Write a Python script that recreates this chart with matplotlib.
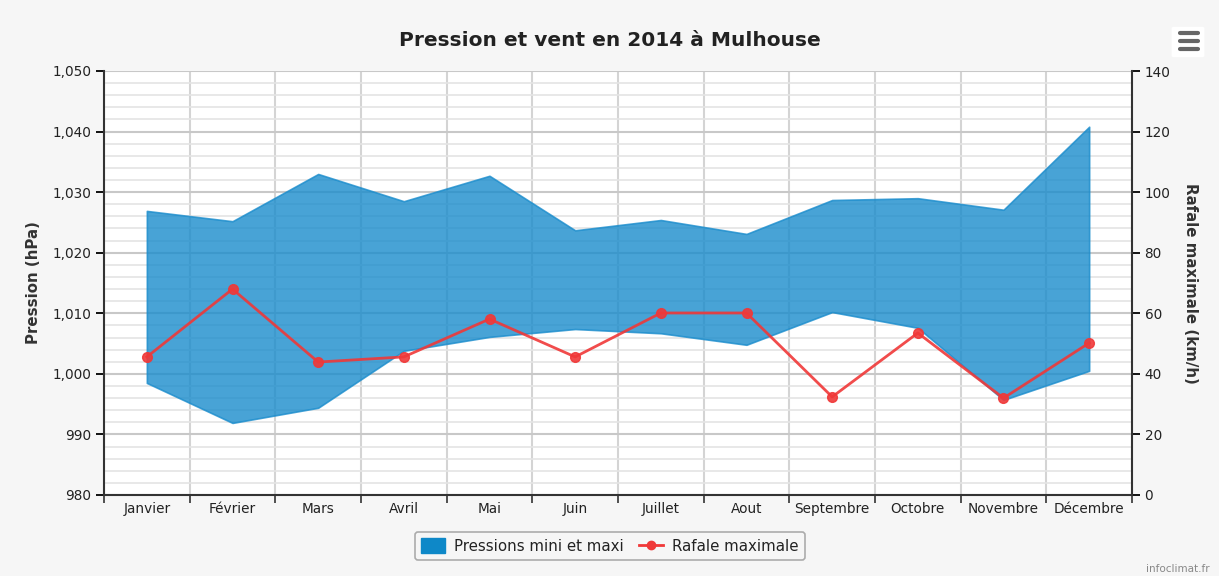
import matplotlib.pyplot as plt
from matplotlib.patches import FancyBboxPatch
from matplotlib.lines import Line2D
import numpy as np

# donnees
mois = ["Janvier", "Février", "Mars", "Avril", "Mai", "Juin", "Juillet",
        "Aout", "Septembre", "Octobre", "Novembre", "Décembre"]
pression_mini = [998.5, 991.9, 994.4, 1003.8, 1006.1, 1007.4, 1006.7,
                 1004.8, 1010.2, 1007.6, 995.7, 1000.5]
pression_maxi = [1026.9, 1025.2, 1033.0, 1028.5, 1032.7, 1023.7, 1025.4,
                 1023.1, 1028.7, 1029.0, 1027.1, 1040.8]
rafale = [45.6, 68.0, 43.9, 45.6, 58.1, 45.6, 60.1, 60.1, 32.4, 53.5, 32.0, 50.2]

bleu = "#1a8ccc"
rouge = "#f03838"
gris_txt = "#333333"

fig = plt.figure(figsize=(12.19, 5.76), dpi=100)
fig.patch.set_facecolor("#f6f6f6")
ax = fig.add_axes([104/1219, 1-495/576, (1132-104)/1219, (495-71)/576])
ax.set_facecolor("white")

x = np.arange(len(mois))
ax.fill_between(x, pression_mini, pression_maxi, facecolor=bleu, alpha=0.8,
                edgecolor=bleu, linewidth=1.2, zorder=2)

ax.set_xlim(-0.5, len(mois) - 0.5)
ax.set_ylim(980, 1050)
ax.set_yticks(np.arange(980, 1051, 10))
ax.set_yticks(np.arange(980, 1051, 2), minor=True)
ax.set_yticklabels([f"{v // 1000},{v % 1000:03d}" if v >= 1000 else str(v)
                    for v in range(980, 1051, 10)])
ax.set_xticks(x)
ax.set_xticklabels(mois)
ax.set_xticks(np.arange(-0.5, len(mois), 1), minor=True)

ax.grid(axis="y", which="major", color="#c8c8c8", linewidth=1.5, zorder=0)
ax.grid(axis="y", which="minor", color="#e4e4e4", linewidth=1.2, zorder=0)
ax.grid(axis="x", which="minor", color="#d4d4d4", linewidth=1.5, zorder=0)
ax.set_axisbelow(True)

ax.tick_params(axis="x", which="major", length=0, pad=5, labelsize=9.8, labelcolor="#222222")
ax.tick_params(axis="x", which="minor", length=6, width=1.2, color="#333333")
ax.tick_params(axis="y", which="major", length=6, width=1.3, labelsize=9.8,
               labelcolor="#222222", direction="out", pad=3)
ax.tick_params(axis="y", which="minor", length=0)
for side in ["left", "bottom"]:
    ax.spines[side].set_color("#333333")
    ax.spines[side].set_linewidth(1.5)
ax.spines["top"].set_visible(False)
ax.spines["right"].set_visible(False)
ax.set_ylabel("Pression (hPa)", fontsize=10.8, fontweight="bold", color=gris_txt, labelpad=8)

ax2 = ax.twinx()
ax2.plot(x, rafale, color=rouge, linewidth=2, marker="o", markersize=7,
         markerfacecolor=rouge, markeredgecolor=rouge, alpha=0.9, zorder=3)
ax2.set_ylim(0, 140)
ax2.set_yticks(np.arange(0, 141, 20))
ax2.tick_params(axis="y", length=6, width=1.3, labelsize=9.8, labelcolor="#222222", pad=3)
ax2.spines["right"].set_color("#333333")
ax2.spines["right"].set_linewidth(1.5)
for side in ["left", "top", "bottom"]:
    ax2.spines[side].set_visible(False)
ax2.set_ylabel("Rafale maximale (km/h)", fontsize=10.8, fontweight="bold",
               color=gris_txt, rotation=270, labelpad=20)

fig.text(610/1219, 1-40/576, "Pression et vent en 2014 à Mulhouse", ha="center",
         va="center", fontsize=14.5, fontweight="bold", color="#222222")

handles = [plt.Rectangle((0, 0), 1, 1, facecolor="#0e88c8", edgecolor="#0e88c8"),
           Line2D([0], [0], color=rouge, linewidth=2, marker="o", markersize=6)]
leg = fig.legend(handles, ["Pressions mini et maxi", "Rafale maximale"],
                 loc="center", bbox_to_anchor=(610/1219, 1-546/576), ncol=2,
                 frameon=True, fontsize=10.8, handlelength=1.6, handleheight=1.1,
                 columnspacing=1.0, borderpad=0.45, handletextpad=0.6, fancybox=True)
leg.get_frame().set_edgecolor("#999999")
leg.get_frame().set_facecolor("#f6f6f6")
leg.get_frame().set_linewidth(1.2)
for t in leg.get_texts():
    t.set_color("#222222")

# bouton menu en haut a droite
fig.add_artist(FancyBboxPatch((1174/1219, 1-56/576), 28/1219, 28/576,
                              boxstyle="round,pad=0.002", transform=fig.transFigure,
                              facecolor="white", edgecolor="none"))
for yy in [33, 41, 49]:
    fig.add_artist(Line2D([1180/1219, 1198/1219], [1-yy/576, 1-yy/576],
                          transform=fig.transFigure, color="#666666",
                          linewidth=3, solid_capstyle="round"))

fig.text(1210/1219, 1-569/576, "infoclimat.fr", ha="right", va="center",
         fontsize=7.5, color="#888888")

plt.savefig("out.png", dpi=100, facecolor=fig.get_facecolor())
